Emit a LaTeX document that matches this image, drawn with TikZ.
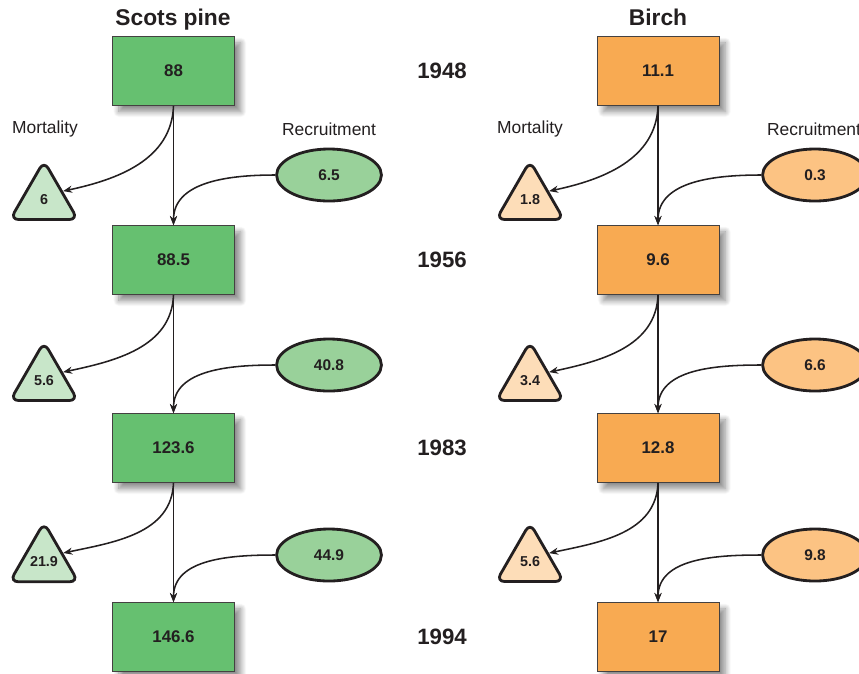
\documentclass[tikz,border=0pt]{standalone}
\usepackage{fontspec}
\setmainfont{Liberation Sans}
\usetikzlibrary{shapes.geometric,arrows.meta,shadows.blur}

\definecolor{ink}{RGB}{35,31,32}
\definecolor{pinebox}{RGB}{102,192,112}
\definecolor{pinetri}{RGB}{200,230,201}
\definecolor{pineell}{RGB}{153,209,154}
\definecolor{birchbox}{RGB}{248,170,82}
\definecolor{birchtri}{RGB}{253,221,184}
\definecolor{birchell}{RGB}{252,195,131}

\begin{document}
\begin{tikzpicture}[
            x=0.025cm, y=0.025cm, text=ink,
            stock/.style={rectangle,draw=ink!85,line width=0.6pt,fill=#1,
                minimum width=3.05cm,minimum height=1.72cm,
                font=\fontsize{12}{14}\selectfont\bfseries,
                blur shadow={shadow xshift=4.5pt,shadow yshift=-4.5pt,
                    shadow blur radius=4pt,shadow blur steps=12,shadow opacity=45}},
            loss/.style={regular polygon,regular polygon sides=3,draw=ink,
                line width=2pt,rounded corners=6pt,fill=#1,minimum size=1.95cm,
                inner sep=0pt,font=\fontsize{10.2}{12}\selectfont\bfseries},
            gain/.style={ellipse,draw=ink,line width=2pt,fill=#1,
                minimum width=2.62cm,minimum height=1.3cm,inner sep=0pt,
                font=\fontsize{11}{13}\selectfont\bfseries},
            title/.style={anchor=base,font=\fontsize{16.2}{18}\selectfont\bfseries},
            year/.style={font=\fontsize{15.8}{18}\selectfont\bfseries},
            tag/.style={font=\fontsize{12.4}{14}\selectfont},
            flow/.style={draw=ink,line width=1.1pt,-{Stealth[length=6.5pt,width=5pt]}}
        ]
        \useasboundingbox (0, 0) rectangle (859, -673);

        % Scots pine
        \node[title] (pt) at (173, -25) {Scots pine};
        \node[stock=pinebox] (p1) at (173.5, -71) {88};
        \node[stock=pinebox] (p2) at (173.5, -260) {88.5};
        \node[stock=pinebox] (p3) at (173.5, -448) {123.6};
        \node[stock=pinebox] (p4) at (173.5, -637) {146.6};
        \node[tag] (pml) at (45, -129) {Mortality};
        \node[tag] (prl) at (329, -129) {Recruitment};
        \node[loss=pinetri] (pm1) at (44, -200) {6};
        \node[loss=pinetri] (pm2) at (44, -381) {5.6};
        \node[loss=pinetri] (pm3) at (44, -562) {21.9};
        \node[gain=pineell] (pr1) at (329, -175) {6.5};
        \node[gain=pineell] (pr2) at (329, -365) {40.8};
        \node[gain=pineell] (pr3) at (329, -555) {44.9};
        \draw[flow] (p1.south) -- (p2.north);
        \draw[flow] (p2.south) -- (p3.north);
        \draw[flow] (p3.south) -- (p4.north);
        \draw[flow] (p1.south) to[out=-92, in=12] (pm1.25);
        \draw[flow] (p2.south) to[out=-92, in=12] (pm2.25);
        \draw[flow] (p3.south) to[out=-92, in=12] (pm3.25);
        \draw[flow] (pr1.west) to[out=180, in=90] (p2.north);
        \draw[flow] (pr2.west) to[out=180, in=90] (p3.north);
        \draw[flow] (pr3.west) to[out=180, in=90] (p4.north);

        % years
        \node[year] (y1) at (442, -71) {1948};
        \node[year] (y2) at (442, -260) {1956};
        \node[year] (y3) at (442, -448) {1983};
        \node[year] (y4) at (442, -637) {1994};

        % Birch
        \node[title] (bt) at (658, -25) {Birch};
        \node[stock=birchbox] (b1) at (658, -71) {11.1};
        \node[stock=birchbox] (b2) at (658, -260) {9.6};
        \node[stock=birchbox] (b3) at (658, -448) {12.8};
        \node[stock=birchbox] (b4) at (658, -637) {17};
        \node[tag] (bml) at (530, -129) {Mortality};
        \node[tag] (brl) at (814, -129) {Recruitment};
        \node[loss=birchtri] (bm1) at (530, -200) {1.8};
        \node[loss=birchtri] (bm2) at (530, -381) {3.4};
        \node[loss=birchtri] (bm3) at (530, -562) {5.6};
        \node[gain=birchell] (br1) at (815, -175) {0.3};
        \node[gain=birchell] (br2) at (815, -365) {6.6};
        \node[gain=birchell] (br3) at (815, -555) {9.8};
        \draw[flow] (b1.south) -- (b2.north);
        \draw[flow] (b2.south) -- (b3.north);
        \draw[flow] (b3.south) -- (b4.north);
        \draw[flow] (b1.south) to[out=-92, in=12] (bm1.25);
        \draw[flow] (b2.south) to[out=-92, in=12] (bm2.25);
        \draw[flow] (b3.south) to[out=-92, in=12] (bm3.25);
        \draw[flow] (br1.west) to[out=180, in=90] (b2.north);
        \draw[flow] (br2.west) to[out=180, in=90] (b3.north);
        \draw[flow] (br3.west) to[out=180, in=90] (b4.north);
    \end{tikzpicture}
\end{document}
